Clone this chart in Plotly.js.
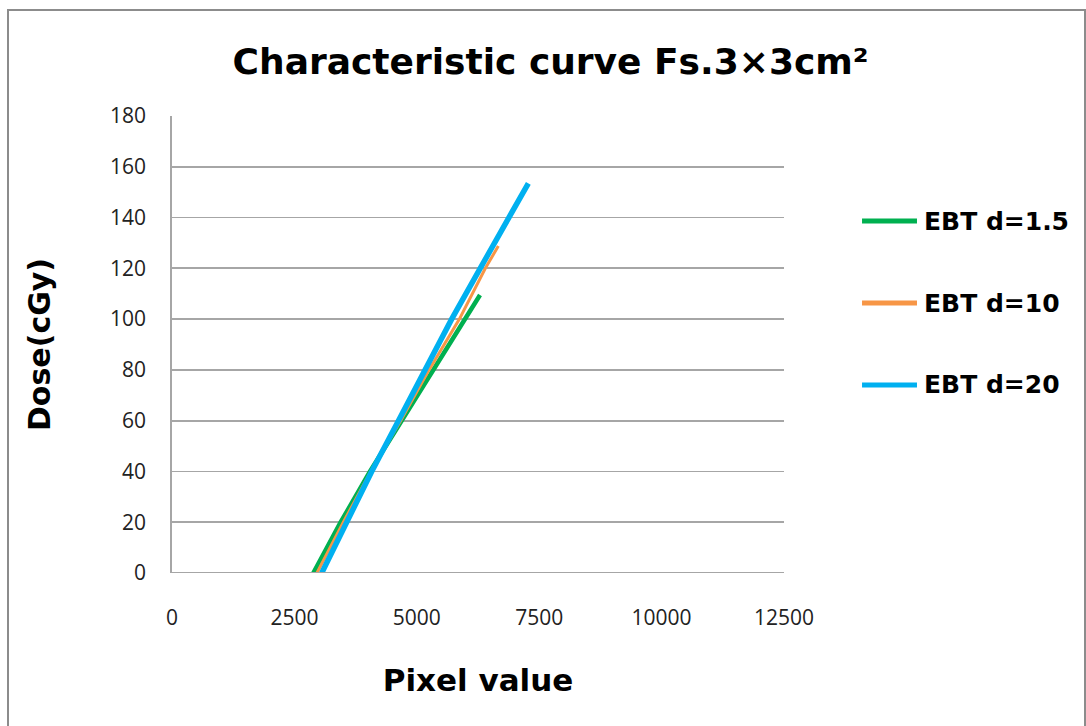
<!DOCTYPE html>
<html>
<head>
<meta charset="utf-8">
<script src="https://cdn.plot.ly/plotly-3.0.1.min.js"></script>
<style>
  html, body { margin: 0; padding: 0; background: #fff; }
  #wrap { position: relative; width: 1086px; height: 726px; }
  #chart { width: 1086px; height: 726px; }
  #frame { position: absolute; left: 7px; top: 9px; width: 1075px; height: 740px;
           border: 2px solid #8c8c8c; pointer-events: none; }
</style>
</head>
<body>
<div id="wrap">
  <div id="chart"></div>
  <div id="frame"></div>
</div>
<script>
// Series values (Pixel value -> Dose cGy)
const seriesNames = ["EBT d=1.5", "EBT d=10", "EBT d=20"];
const seriesColors = ["#00b050", "#f79646", "#00b0f0"];

const pixel_d15 = [2886, 3445, 4044, 4690, 5330, 6000, 6291];
const dose_d15  = [0, 20, 40, 60, 80, 100, 109.5];

const pixel_d10 = [2960, 3499, 4060, 4670, 5250, 5870, 6400, 6665];
const dose_d10  = [0, 20, 40, 60, 80, 100, 120, 128.8];

const pixel_d20 = [3058, 3565, 4079, 4625, 5167, 5712, 6295, 6865, 7278];
const dose_d20  = [0, 20, 40, 60, 80, 100, 120, 140, 153.5];

const xTicks = [0, 2500, 5000, 7500, 10000, 12500];
const yTicks = [0, 20, 40, 60, 80, 100, 120, 140, 160, 180];

const xs = [pixel_d15, pixel_d10, pixel_d20];
const ys = [dose_d15, dose_d10, dose_d20];
const widths = [4.5, 3, 5.5];

const traces = xs.map((x, i) => ({
  type: "scatter",
  mode: "lines",
  x: x,
  y: ys[i],
  name: seriesNames[i],
  line: { color: seriesColors[i], width: widths[i] },
  hoverinfo: "x+y"
}));

const boldFont = "'DejaVu Sans', 'Liberation Sans', sans-serif";
const tickFont = { family: "'Open Sans', sans-serif", size: 21, color: "#222" };

// custom legend (longer, thick sample lines like the reference)
const legendY = [0.770, 0.5908, 0.4114];
const legendShapes = seriesNames.map((n, i) => ({
  type: "line", xref: "paper", yref: "paper",
  x0: 1.1275, x1: 1.2173, y0: legendY[i], y1: legendY[i],
  line: { color: seriesColors[i], width: 5 }
}));
const legendTexts = seriesNames.map((n, i) => ({
  xref: "paper", yref: "paper", x: 1.2255, y: legendY[i],
  xanchor: "left", yanchor: "middle", showarrow: false,
  text: "<b>" + n + "</b>",
  font: { family: boldFont, size: 25, color: "#000" }
}));

const layout = {
  width: 1086,
  height: 726,
  paper_bgcolor: "#ffffff",
  plot_bgcolor: "#ffffff",
  margin: { l: 172, r: 302, t: 116, b: 153 },
  title: {
    text: "<b>Characteristic curve Fs.3×3cm²</b>",
    font: { family: boldFont, size: 36, color: "#000" },
    x: 0.507, xanchor: "center",
    y: 0.915, yanchor: "middle"
  },
  xaxis: {
    range: [0, 12500],
    tickvals: xTicks,
    ticktext: xTicks.map(String),
    showgrid: false,
    zeroline: false,
    showline: false,
    ticks: "outside",
    ticklen: 26,
    tickcolor: "rgba(0,0,0,0)",
    tickfont: tickFont,
    title: {
      text: "<b>Pixel value</b>",
      font: { family: boldFont, size: 31, color: "#000" },
      standoff: 39
    },
    fixedrange: true
  },
  yaxis: {
    range: [0, 180],
    tickvals: yTicks,
    ticktext: yTicks.map(String),
    showgrid: true,
    gridcolor: "#a6a6a6",
    gridwidth: 1.8,
    zeroline: false,
    showline: true,
    linecolor: "#a6a6a6",
    linewidth: 1.8,
    ticks: "outside",
    ticklen: 20,
    tickcolor: "rgba(0,0,0,0)",
    tickfont: tickFont,
    title: {
      text: "<b>Dose(cGy)</b>",
      font: { family: boldFont, size: 30, color: "#000" },
      standoff: 50
    },
    fixedrange: true
  },
  shapes: [{
    type: "line", xref: "paper", yref: "y",
    x0: 0, x1: 1, y0: 0, y1: 0,
    line: { color: "#a6a6a6", width: 1.8 }
  }].concat(legendShapes),
  annotations: legendTexts,
  showlegend: false,
  hovermode: "closest"
};

Plotly.newPlot("chart", traces, layout, { displayModeBar: false, staticPlot: true });
</script>
</body>
</html>
